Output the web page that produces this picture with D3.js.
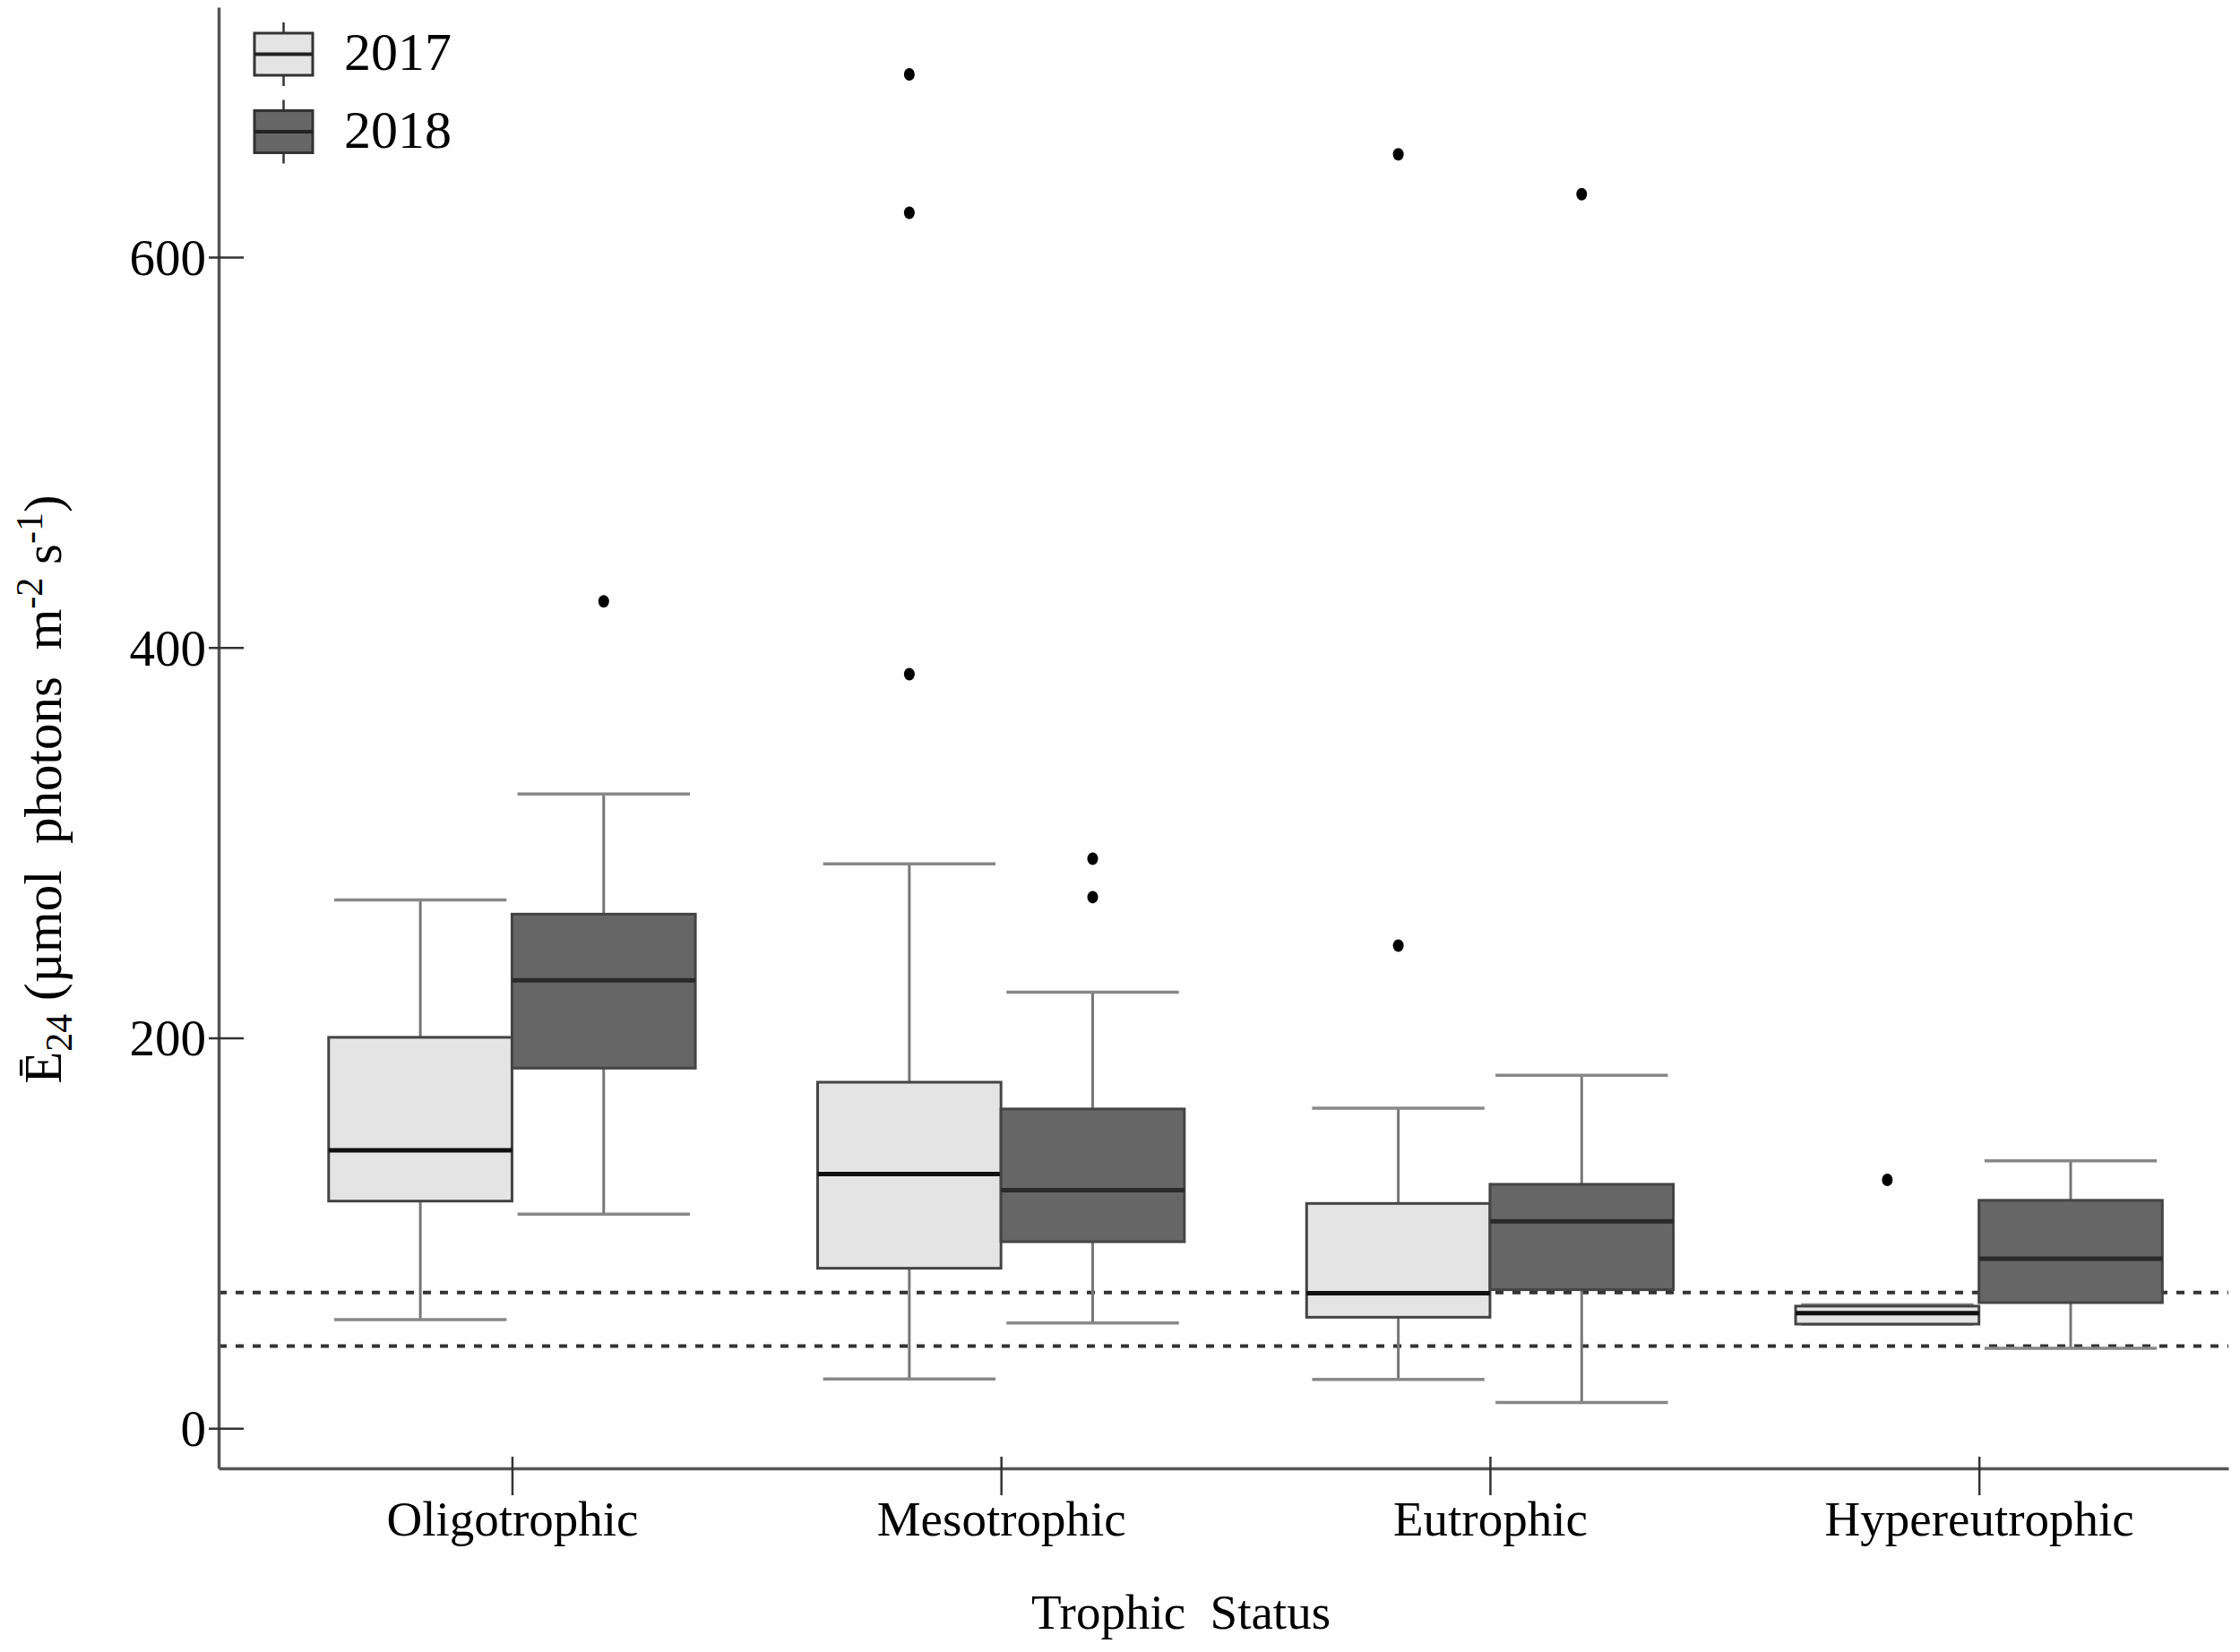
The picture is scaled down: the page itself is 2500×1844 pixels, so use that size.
<!DOCTYPE html>
<html>
<head>
<meta charset="utf-8">
<script src="https://cdn.jsdelivr.net/npm/d3@7"></script>
<style>
  body { margin: 0; background: #fff; }
  text { font-family: "Liberation Serif", "Times New Roman", serif; fill: #000; }
</style>
</head>
<body>
<svg id="chart" width="2500" height="1844"></svg>
<script>
(function () {

  // data: [lower whisker, Q1, median, Q3, upper whisker]
  const categories = ['Oligotrophic', 'Mesotrophic', 'Eutrophic', 'Hypereutrophic'];
  const years = ['2017', '2018'];
  const box2017 = [
    [55.7, 116.4, 142.4, 200.3, 270.7],
    [25.3, 82.0, 130.2, 177.3, 289.2],
    [25.1, 56.9, 69.2, 115.2, 164.0],
    [53.4, 53.4, 59.0, 62.6, 63.2]
  ];
  const box2018 = [
    [109.7, 184.5, 229.5, 263.4, 324.9],
    [54.0, 95.6, 122.0, 163.6, 223.4],
    [13.2, 71.0, 106.1, 125.0, 180.9],
    [41.0, 64.4, 86.9, 116.8, 137.0]
  ];
  const outliers2017 = [[], [693.6, 622.7, 386.3], [652.6, 247.3], [127.3]];
  const outliers2018 = [[423.6], [291.8, 272.1], [632.2], []];
  const thresholds = [69.6, 42.2];
  const yTicks = [0, 200, 400, 600];

  const fills = { '2017': '#e4e4e4', '2018': '#666666' };
  const font = 55;

  const svg = d3.select('#chart');
  svg.append('rect').attr('width', 2500).attr('height', 1844).attr('fill', '#fff');

  const x = d3.scaleLinear().domain([0.4, 4.51]).range([244, 2487]);
  const y = d3.scaleLinear().domain([-20.5, 728]).range([1639, 8]);
  const boxW = x(0.375) - x(0);
  const offset = { '2017': -0.1875, '2018': 0.1875 };

  // threshold lines
  svg.append('g').selectAll('line')
    .data(thresholds)
    .join('line')
    .attr('x1', 244).attr('x2', 2487)
    .attr('y1', d => y(d)).attr('y2', d => y(d))
    .attr('stroke', '#333').attr('stroke-width', 4)
    .attr('stroke-dasharray', '9,10');

  const series = [
    { year: '2017', boxes: box2017, outliers: outliers2017 },
    { year: '2018', boxes: box2018, outliers: outliers2018 }
  ];

  series.forEach(s => {
    const g = svg.append('g');
    s.boxes.forEach((b, i) => {
      const cx = x(i + 1 + offset[s.year]);
      const [lo, q1, med, q3, hi] = b;
      // whiskers
      g.append('line')
        .attr('x1', cx).attr('x2', cx).attr('y1', y(hi)).attr('y2', y(q3))
        .attr('stroke', '#777').attr('stroke-width', 3);
      g.append('line')
        .attr('x1', cx).attr('x2', cx).attr('y1', y(q1)).attr('y2', y(lo))
        .attr('stroke', '#777').attr('stroke-width', 3);
      [lo, hi].forEach(v => {
        g.append('line')
          .attr('x1', cx - boxW * 0.47).attr('x2', cx + boxW * 0.47)
          .attr('y1', y(v)).attr('y2', y(v))
          .attr('stroke', '#888').attr('stroke-width', 3.5);
      });
      g.append('rect')
        .attr('x', cx - boxW / 2).attr('width', boxW)
        .attr('y', y(q3)).attr('height', y(q1) - y(q3))
        .attr('fill', fills[s.year])
        .attr('stroke', '#444').attr('stroke-width', 3);
      g.append('line')
        .attr('x1', cx - boxW / 2).attr('x2', cx + boxW / 2)
        .attr('y1', y(med)).attr('y2', y(med))
        .attr('stroke', s.year === '2017' ? '#111' : '#2a2a2a').attr('stroke-width', 5);
      g.selectAll(null)
        .data(s.outliers[i])
        .join('ellipse')
        .attr('cx', cx).attr('cy', d => y(d))
        .attr('rx', 6).attr('ry', 7)
        .attr('fill', '#000');
    });
  });

  // y axis
  const yAxis = svg.append('g')
    .attr('transform', 'translate(244,0)')
    .call(d3.axisLeft(y).tickValues(yTicks).tickSizeOuter(0));
  yAxis.select('.domain').attr('stroke', '#555').attr('stroke-width', 3.5);
  yAxis.selectAll('.tick line').attr('x1', -11).attr('x2', 28)
    .attr('stroke', '#333').attr('stroke-width', 2.5);
  yAxis.selectAll('.tick text')
    .attr('x', -14).attr('dy', '0.34em')
    .style('font-size', '57px');

  // x axis
  const xAxis = svg.append('g')
    .attr('transform', 'translate(0,1639)')
    .call(d3.axisBottom(x).tickValues([1, 2, 3, 4])
      .tickFormat(d => categories[d - 1]).tickSizeOuter(0));
  xAxis.select('.domain').attr('stroke', '#555').attr('stroke-width', 3.5);
  xAxis.selectAll('.tick line').attr('y1', -13).attr('y2', 30)
    .attr('stroke', '#333').attr('stroke-width', 2.5);
  xAxis.selectAll('.tick text')
    .attr('y', 75).attr('dy', 0)
    .style('font-size', font + 'px');
  svg.selectAll('.tick text').style('font-family', '"Liberation Serif", "Times New Roman", serif').attr('fill', '#000');

  svg.append('text')
    .attr('x', 1318).attr('y', 1818)
    .attr('text-anchor', 'middle')
    .style('font-size', font + 'px')
    .style('white-space', 'pre')
    .text('Trophic  Status');

  // y axis title
  const yt = svg.append('text')
    .attr('transform', 'translate(68,881) rotate(-90)')
    .attr('text-anchor', 'middle')
    .style('font-size', '59px')
    .style('white-space', 'pre');
  yt.append('tspan').text('\u0112');
  yt.append('tspan').attr('dy', 12).style('font-size', '42px').text('24');
  yt.append('tspan').attr('dy', -12).text(' (\u00b5mol  photons  m');
  yt.append('tspan').attr('dy', -21).style('font-size', '42px').text('-2');
  yt.append('tspan').attr('dy', 21).text(' s');
  yt.append('tspan').attr('dy', -21).style('font-size', '42px').text('-1');
  yt.append('tspan').attr('dy', 21).text(')');

  // legend
  const legend = svg.append('g');
  const legY = [37, 123.5];
  years.forEach((yr, i) => {
    const top = legY[i];
    const h = 47;
    const lg = legend.append('g');
    lg.append('line')
      .attr('x1', 316.5).attr('x2', 316.5).attr('y1', top - 12).attr('y2', top + h + 12)
      .attr('stroke', '#333').attr('stroke-width', 2.5);
    lg.append('rect')
      .attr('x', 284).attr('y', top).attr('width', 65).attr('height', h)
      .attr('fill', fills[yr]).attr('stroke', '#333').attr('stroke-width', 3);
    lg.append('line')
      .attr('x1', 284).attr('x2', 349).attr('y1', top + h / 2).attr('y2', top + h / 2)
      .attr('stroke', '#222').attr('stroke-width', 4);
    lg.append('text')
      .attr('x', 384).attr('y', top + 41)
      .style('font-size', '60px')
      .text(yr);
  });

})();
</script>
</body>
</html>
